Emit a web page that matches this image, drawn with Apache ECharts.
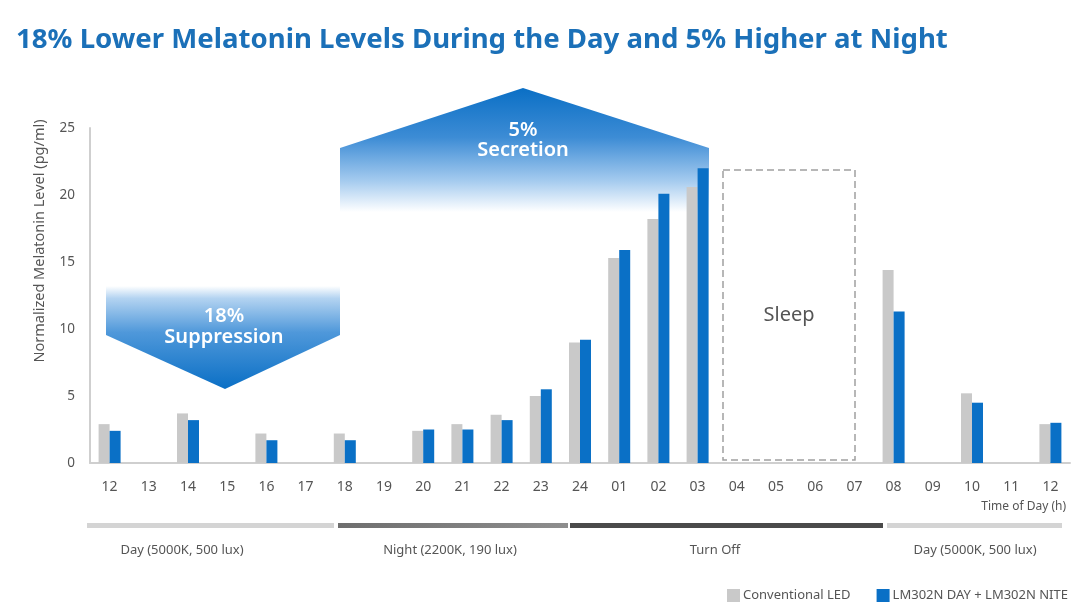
<!DOCTYPE html>
<html>
<head>
<meta charset="utf-8">
<script src="https://cdn.jsdelivr.net/npm/echarts@6/dist/echarts.min.js"></script>
<style>
html,body{margin:0;padding:0;background:#fff;}
#c{width:1080px;height:608px;}
</style>
</head>
<body>
<div id="c"></div>
<script>
var categories = ['12','13','14','15','16','17','18','19','20','21','22','23','24','01','02','03','04','05','06','07','08','09','10','11','12'];
var conventionalLED = [2.9,null,3.7,null,2.2,null,2.2,null,2.4,2.9,3.6,5.0,9.0,15.3,18.2,20.6,null,null,null,null,14.4,null,5.2,null,2.9];
var lm302n = [2.4,null,3.2,null,1.7,null,1.7,null,2.5,2.5,3.2,5.5,9.2,15.9,20.1,22.0,null,null,null,null,11.3,null,4.5,null,3.0];
var seriesNames = ['Conventional LED','LM302N DAY + LM302N NITE'];
var periodLabels = ['Day (5000K, 500 lux)','Night (2200K, 190 lux)','Turn Off','Day (5000K, 500 lux)'];
var yTicks = [0,5,10,15,20,25];

var FONT = '"Noto Sans", "Open Sans", sans-serif';
var chart = echarts.init(document.getElementById('c'), null, {renderer:'canvas'});

var blue = '#0a70c6';

var option = {
  backgroundColor:'#fff',
  animation:false,
  textStyle:{fontFamily:FONT},
  title:{
    text:'18% Lower Melatonin Levels During the Day and 5% Higher at Night',
    left:11, top:21,
    textStyle:{fontFamily:FONT, fontSize:27.6, fontWeight:'bold', color:'#1b70b8'}
  },
  legend:{
    left:722, top:584,
    itemWidth:13, itemHeight:13, itemGap:26,
    icon:'rect',
    textStyle:{fontSize:13, color:'#555', fontFamily:FONT, padding:[0,0,0,-2]},
    data:seriesNames
  },
  grid:{left:90, right:10, top:128, bottom:145},
  xAxis:{
    type:'category',
    data:categories,
    boundaryGap:true,
    axisLine:{show:true, lineStyle:{color:'#cfcfcf', width:2}},
    axisTick:{show:false},
    axisLabel:{margin:17, fontSize:14, color:'#555', fontFamily:FONT, interval:0},
    splitLine:{show:false}
  },
  yAxis:{
    type:'value',
    min:0, max:25, interval:5,
    axisLine:{show:true, lineStyle:{color:'#cfcfcf', width:2}},
    axisTick:{show:false},
    axisLabel:{margin:15, fontSize:13.5, color:'#555', fontFamily:FONT},
    splitLine:{show:false}
  },
  series:[
    {name:seriesNames[0], type:'bar', data:conventionalLED, barWidth:11, barGap:'0%',
     itemStyle:{color:'#c9c9c9'}, z:5},
    {name:seriesNames[1], type:'bar', data:lm302n, barWidth:11, barGap:'0%',
     itemStyle:{color:blue}, z:5}
  ],
  graphic:[
    // y axis name
    {type:'text', z:3, x:40, y:241, rotation:Math.PI/2,
     style:{text:'Normalized Melatonin Level (pg/ml)', x:0, y:0, align:'center', verticalAlign:'middle',
      fill:'#555', font:'14.5px '+FONT}},
    // down arrow (suppression)
    {type:'polygon', z:1,
     shape:{points:[[106,286],[340,286],[340,335],[225,389],[106,335]]},
     style:{fill:new echarts.graphic.LinearGradient(0,0,0,1,[
        {offset:0,color:'rgba(255,255,255,1)'},
        {offset:0.12,color:'#b3d3f1'},
        {offset:0.45,color:'#4f98da'},
        {offset:1,color:'#0a6fc5'}])}},
    {type:'text', z:3, style:{text:'18%\nSuppression', x:224, y:327, align:'center', verticalAlign:'middle',
      fill:'#fff', font:'600 20px '+FONT, lineHeight:21}},
    // up arrow (secretion)
    {type:'polygon', z:1,
     shape:{points:[[340,148],[523,88],[709,148],[709,212],[340,212]]},
     style:{fill:new echarts.graphic.LinearGradient(0,0,0,1,[
        {offset:0,color:'#0a6fc5'},
        {offset:0.4,color:'#3d8cd5'},
        {offset:0.75,color:'#a5cbef'},
        {offset:1,color:'rgba(255,255,255,1)'}])}},
    {type:'text', z:3, style:{text:'5%\nSecretion', x:523, y:140, align:'center', verticalAlign:'middle',
      fill:'#fff', font:'600 20px '+FONT, lineHeight:20}},
    // sleep box
    {type:'rect', z:3, shape:{x:723, y:170, width:132, height:290},
     style:{fill:'transparent', stroke:'#a0a0a0', lineWidth:1.5, lineDash:[7,4]}},
    {type:'text', z:3, style:{text:'Sleep', x:789, y:315, align:'center', verticalAlign:'middle',
      fill:'#555', font:'20px '+FONT}},
    // x axis name
    {type:'text', z:3, style:{text:'Time of Day (h)', x:1066, y:507, align:'right', verticalAlign:'middle',
      fill:'#555', font:'12px '+FONT}},
    // period bars
    {type:'rect', z:3, shape:{x:87, y:523, width:247, height:5}, style:{fill:'#d4d4d4'}},
    {type:'rect', z:3, shape:{x:338, y:523, width:230, height:5},
     style:{fill:new echarts.graphic.LinearGradient(0,0,1,0,[{offset:0,color:'#6e6e6e'},{offset:1,color:'#8e8e8e'}])}},
    {type:'rect', z:3, shape:{x:570, y:523, width:313, height:5}, style:{fill:'#4a4a4a'}},
    {type:'rect', z:3, shape:{x:887, y:523, width:175, height:5}, style:{fill:'#d4d4d4'}},
    // period labels
    {type:'text', z:3, style:{text:periodLabels[0], x:182, y:550, align:'center', verticalAlign:'middle', fill:'#555', font:'13px '+FONT}},
    {type:'text', z:3, style:{text:periodLabels[1], x:450, y:550, align:'center', verticalAlign:'middle', fill:'#555', font:'13px '+FONT}},
    {type:'text', z:3, style:{text:periodLabels[2], x:715, y:550, align:'center', verticalAlign:'middle', fill:'#555', font:'13px '+FONT}},
    {type:'text', z:3, style:{text:periodLabels[3], x:975, y:550, align:'center', verticalAlign:'middle', fill:'#555', font:'13px '+FONT}}
  ]
};
chart.setOption(option);
</script>
</body>
</html>
